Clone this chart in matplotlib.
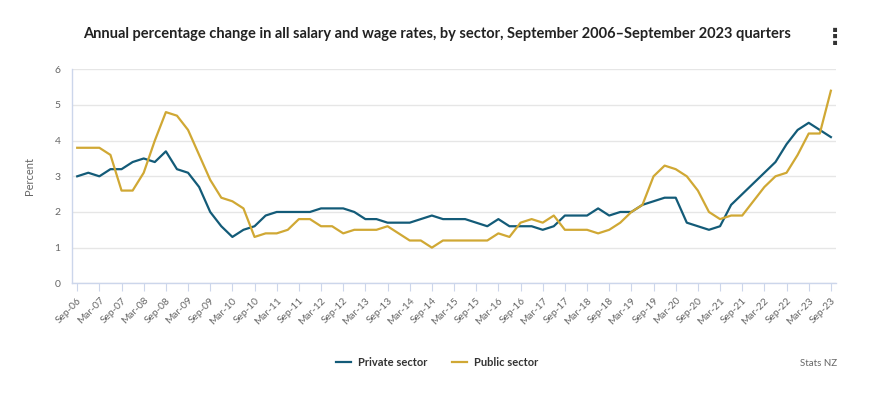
import numpy as np
import matplotlib.pyplot as plt

# --- Datos: variación anual (%) por trimestre, Sep-06 a Sep-23 ---
privado = [3.0, 3.1, 3.0, 3.2, 3.2, 3.4, 3.5, 3.4, 3.7, 3.2, 3.1, 2.7, 2.0, 1.6, 1.3, 1.5, 1.6,
           1.9, 2.0, 2.0, 2.0, 2.0, 2.1, 2.1, 2.1, 2.0, 1.8, 1.8, 1.7, 1.7, 1.7, 1.8, 1.9, 1.8, 1.8, 1.8, 1.7,
           1.6, 1.8, 1.6, 1.6, 1.6, 1.5, 1.6, 1.9, 1.9, 1.9, 2.1, 1.9, 2.0, 2.0, 2.2, 2.3, 2.4, 2.4,
           1.7, 1.6, 1.5, 1.6, 2.2, 2.5, 2.8, 3.1, 3.4, 3.9, 4.3, 4.5, 4.3, 4.1]
publico = [3.8, 3.8, 3.8, 3.6, 2.6, 2.6, 3.1, 4.0, 4.8, 4.7, 4.3, 3.6, 2.9, 2.4, 2.3, 2.1, 1.3,
           1.4, 1.4, 1.5, 1.8, 1.8, 1.6, 1.6, 1.4, 1.5, 1.5, 1.5, 1.6, 1.4, 1.2, 1.2, 1.0, 1.2, 1.2, 1.2, 1.2,
           1.2, 1.4, 1.3, 1.7, 1.8, 1.7, 1.9, 1.5, 1.5, 1.5, 1.4, 1.5, 1.7, 2.0, 2.2, 3.0, 3.3, 3.2,
           3.0, 2.6, 2.0, 1.8, 1.9, 1.9, 2.3, 2.7, 3.0, 3.1, 3.6, 4.2, 4.2, 5.4]

# Etiquetas de trimestres (una cada dos trimestres)
etiquetas_x = []
for anio in range(6, 24):
    if anio > 6:
        etiquetas_x.append(f'Mar-{anio:02d}')
    etiquetas_x.append(f'Sep-{anio:02d}')

x = np.arange(len(privado))

col_priv = '#135b78'
col_pub = '#d0a834'
gris = '#666666'
eje = '#ccd6eb'

plt.rcParams['font.family'] = ['Lato', 'DejaVu Sans']

fig = plt.figure(figsize=(8.74, 3.97), dpi=100)
ax = fig.add_axes([0.082, 0.2864, 0.875, 0.539])

ax.plot(x, privado, color=col_priv, linewidth=1.6, label='Private sector')
ax.plot(x, publico, color=col_pub, linewidth=1.6, label='Public sector')

ax.set_xlim(-0.5, 68.5)
ax.set_ylim(0, 6)
ax.set_yticks(range(0, 7))
ax.grid(axis='y', color='#e6e6e6', linewidth=1)
ax.set_axisbelow(True)

ax.set_xticks(x[::2])
ax.set_xticklabels(etiquetas_x, rotation=45, ha='right', rotation_mode='anchor',
                   fontsize=7.3, color=gris)
ax.tick_params(axis='x', length=6, color=eje, pad=3)
ax.tick_params(axis='y', length=0, labelsize=7.5, labelcolor=gris, pad=8)

for lado in ['top', 'right']:
    ax.spines[lado].set_visible(False)
for lado in ['left', 'bottom']:
    ax.spines[lado].set_color(eje)
    ax.spines[lado].set_linewidth(1)

ax.set_ylabel('Percent', fontsize=8, color=gris, labelpad=14)

fig.text(0.095, 0.915, 'Annual percentage change in all salary and wage rates, by sector, '
         'September 2006\u2013September 2023 quarters',
         fontsize=10.5, fontweight='bold', color='#222222', ha='left', va='center')
fig.text(0.955, 0.905, '\u22ee', fontsize=16, fontweight='bold', color='#333333',
         ha='center', va='center', family='DejaVu Sans')

leg = fig.legend(loc='center', bbox_to_anchor=(0.5, 0.088), ncol=2, frameon=False,
                 fontsize=8, handlelength=1.4, columnspacing=2.2, handletextpad=0.6)
for texto in leg.get_texts():
    texto.set_color('#333333')
    texto.set_fontweight('bold')

fig.text(0.958, 0.085, 'Stats NZ', fontsize=7, color=gris, ha='right', va='center')

plt.savefig('out.png', dpi=100)
plt.close()
